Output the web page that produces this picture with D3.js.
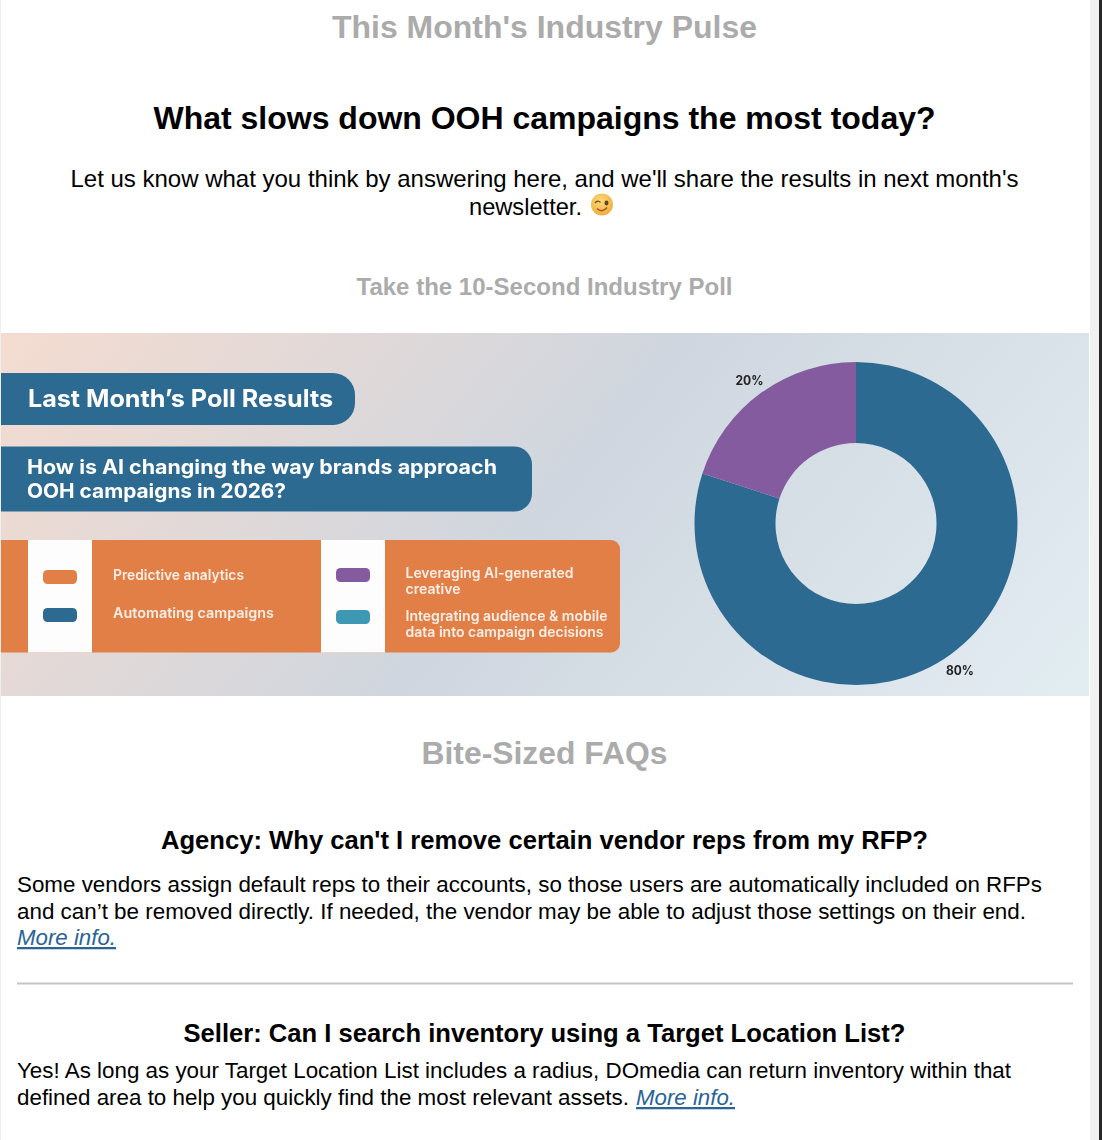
<!DOCTYPE html>
<html><head><meta charset="utf-8">
<script src="https://cdn.jsdelivr.net/npm/d3@7/dist/d3.min.js"></script>
<style>html,body{margin:0;padding:0;background:#fff;overflow:hidden}svg{display:block}</style>
</head><body><svg id="c" width="1102" height="1140"></svg>
<script>
const pollLabels = ["Automating campaigns","Leveraging AI-generated creative"];
const pollValues = [80,20];
const pollColors = ["#2d6a91","#855b9f"];
const legendColors = ["#e27f46","#2d6a91","#855b9f","#3f98b3"];
const SANS = "'Liberation Sans',Arial,sans-serif", BAN = "Inter,Lato,sans-serif";
const svg = d3.select("#c");
const defs = svg.append("defs");
const g = defs.append("linearGradient").attr("id","bg").attr("gradientUnits","userSpaceOnUse")
  .attr("x1",100).attr("y1",150).attr("x2",990).attr("y2",880);
[[0,"#f7dccf"],[.5,"#cfd6df"],[1,"#e4eff4"]].forEach(s=>g.append("stop").attr("offset",s[0]).attr("stop-color",s[1]));
defs.append("filter").attr("id","soft").append("feGaussianBlur").attr("stdDeviation",.4);
const eg = defs.append("radialGradient").attr("id","face").attr("cx","45%").attr("cy","35%").attr("r","70%");
[[0,"#fbdc7a"],[1,"#eeaa3a"]].forEach(s=>eg.append("stop").attr("offset",s[0]).attr("stop-color",s[1]));

svg.append("rect").attr("x",0).attr("width",1).attr("height",1140).attr("fill","#efefef");
svg.append("rect").attr("x",1090).attr("width",9).attr("height",1140).attr("fill","#f1f1f1");
svg.append("rect").attr("x",1099).attr("width",3).attr("height",1140).attr("fill","#262626");
function t(x,y,s,o={}){
  const e=svg.append("text").attr("x",x).attr("y",y).text(s)
   .attr("font-family",o.f||SANS).attr("font-size",o.s||24).attr("font-weight",o.w||"normal")
   .attr("fill",o.c||"#000").attr("text-anchor",o.a||"start");
  if(o.i) e.attr("font-style","italic");
  if(o.u) e.attr("text-decoration","underline");
  if(o.l) e.attr("textLength",o.l).attr("lengthAdjust","spacingAndGlyphs");
  if(o.soft) e.attr("filter","url(#soft)");
  return e;
}
const gr="#ababab";
t(544.5,38,"This Month's Industry Pulse",{s:32,w:"bold",c:gr,a:"middle",l:425});
t(544.5,129,"What slows down OOH campaigns the most today?",{s:32,w:"bold",a:"middle",l:782});
t(544.5,187,"Let us know what you think by answering here, and we'll share the results in next month's",{a:"middle",l:948});
t(469,215,"newsletter.",{l:113});
t(544.5,295,"Take the 10-Second Industry Poll",{s:24,w:"bold",c:gr,a:"middle",l:376});

// emoji
const em=svg.append("g").attr("transform","translate(602,204.5)");
em.append("circle").attr("r",11).attr("fill","url(#face)");
em.append("path").attr("d","M-7,-1.5Q-4,-5 -1.5,-2").attr("fill","none").attr("stroke","#7a4a1c").attr("stroke-width",1.3);
em.append("ellipse").attr("cx",4.5).attr("cy",-1.5).attr("rx",2).attr("ry",2.4).attr("fill","#6b431c");
em.append("path").attr("d","M-5,4Q0,9 5,3").attr("fill","none").attr("stroke","#a5552a").attr("stroke-width",1.5);

// banner
svg.append("rect").attr("x",1).attr("y",333).attr("width",1088).attr("height",363).attr("fill","url(#bg)");
const pill=(w,y,h,r)=>`M1,${y}H${w-r}A${r},${r} 0 0 1 ${w},${y+r}V${y+h-r}A${r},${r} 0 0 1 ${w-r},${y+h}H1Z`;
svg.append("path").attr("d",pill(355,373,52,22)).attr("fill","#2d6a91");
svg.append("path").attr("d",pill(532,446.5,65,18)).attr("fill","#2d6a91");
t(28,407,"Last Month’s Poll Results",{f:BAN,s:24,w:700,c:"#fff",l:305,soft:1});
t(27,473.5,"How is AI changing the way brands approach",{f:BAN,s:20,w:700,c:"#fff",l:470,soft:1});
t(27,497.5,"OOH campaigns in 2026?",{f:BAN,s:20,w:700,c:"#fff",l:259,soft:1});
svg.append("path").attr("d",pill(620,540,112.5,9)).attr("fill","#e27f46");
[[28,92],[321,385]].forEach(d=>svg.append("rect").attr("x",d[0]).attr("y",540).attr("width",d[1]-d[0]).attr("height",112.5).attr("fill","#fdfdfd"));
[[43,570],[43,608],[336,568],[336,610]].forEach((d,i)=>svg.append("rect").attr("x",d[0]).attr("y",d[1]).attr("width",34).attr("height",14).attr("rx",4.5).attr("fill",legendColors[i]));
const L={f:BAN,s:14,w:600,c:"#fbeee6",soft:1};
t(113,580,"Predictive analytics",{...L,l:131});
t(113,618,"Automating campaigns",{...L,l:161});
t(405.5,578,"Leveraging AI-generated",{...L,l:168});
t(405.5,594,"creative",{...L,l:55});
t(405.5,621,"Integrating audience & mobile",{...L,l:202});
t(405.5,637,"data into campaign decisions",{...L,l:198});

// donut
const pie=d3.pie().sort(null).value(d=>d)(pollValues);
const arc=d3.arc().innerRadius(80.5).outerRadius(161.5);
const dg=svg.append("g").attr("transform","translate(856,523.5)");
dg.selectAll("path").data(pie).join("path").attr("d",arc).attr("fill",(d,i)=>pollColors[i]);
t(749.5,384.5,"20%",{f:BAN,s:12.5,w:700,c:"#222",a:"middle",l:28,soft:1});
t(960,674.5,"80%",{f:BAN,s:12.5,w:700,c:"#222",a:"middle",l:28,soft:1});

// FAQ
t(544.5,764,"Bite-Sized FAQs",{s:32,w:"bold",c:gr,a:"middle",l:246});
t(544.5,849,"Agency: Why can't I remove certain vendor reps from my RFP?",{s:26,w:"bold",a:"middle",l:767});
t(17,892,"Some vendors assign default reps to their accounts, so those users are automatically included on RFPs",{s:22.6,l:1025});
t(17,919,"and can’t be removed directly. If needed, the vendor may be able to adjust those settings on their end.",{s:22.6,l:1009});
t(17,945,"More info.",{s:22.6,i:1,u:1,c:"#2a6496",l:99});
svg.append("line").attr("x1",17).attr("x2",1073).attr("y1",983.5).attr("y2",983.5).attr("stroke","#c4c4c4").attr("stroke-width",2);
t(544.5,1042,"Seller: Can I search inventory using a Target Location List?",{s:26,w:"bold",a:"middle",l:722});
t(17,1078,"Yes! As long as your Target Location List includes a radius, DOmedia can return inventory within that",{s:22.6,l:994});
t(17,1105,"defined area to help you quickly find the most relevant assets.",{s:22.6,l:612});
t(636,1105,"More info.",{s:22.6,i:1,u:1,c:"#2a6496",l:99});
</script></body></html>
